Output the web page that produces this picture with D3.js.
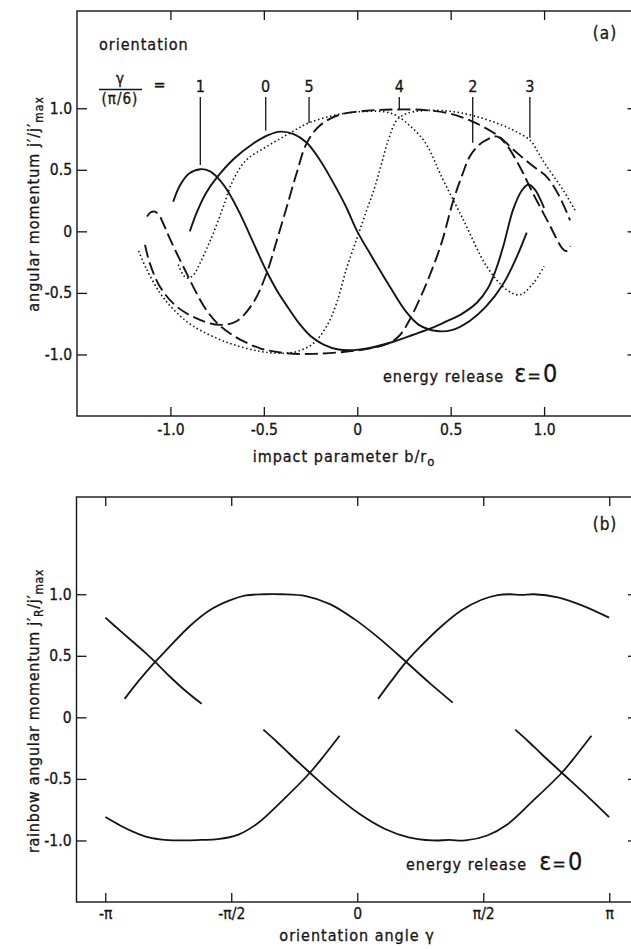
<!DOCTYPE html>
<html>
<head>
<meta charset="utf-8">
<script src="https://cdn.jsdelivr.net/npm/d3@7"></script>
<style>
  body { margin: 0; background: #fff; }
  svg { display: block; background: #fff; }
  text { font-family: "Liberation Sans Narrow", "DejaVu Sans Condensed", "DejaVu Sans", sans-serif; fill: #151515; stroke: #151515; stroke-width: 0.3px; }
  .axis text { font-size: 15.5px; letter-spacing: 0px; }
  .label { font-size: 16px; letter-spacing: 1px; }
</style>
</head>
<body>
<div id="vis-container"></div>
<script>

////////////////////////////////////
////////////// Data ////////////////
////////////////////////////////////

// panel (a): ticks
const impactTicks = [-1.0, -0.5, 0, 0.5, 1.0]
const impactTickLabels = ["-1.0", "-0.5", "0", "0.5", "1.0"]
const momentumTicks = [1.0, 0.5, 0, -0.5, -1.0]
const momentumTickLabels = ["1.0", "0.5", "0", "-0.5", "-1.0"]

// panel (a): j'/j'max vs b/r0 for orientation gamma = k * pi/6   [b, j]
const gamma0 = [[-0.896, 0.00], [-0.86, 0.15], [-0.81, 0.31], [-0.75, 0.44], [-0.66, 0.59], [-0.56, 0.71],
    [-0.48, 0.78], [-0.41, 0.81], [-0.34, 0.79], [-0.27, 0.72], [-0.20, 0.58], [-0.13, 0.40],
    [-0.06, 0.20], [0.00, 0.00], [0.08, -0.21], [0.175, -0.45], [0.26, -0.65], [0.33, -0.76],
    [0.425, -0.81], [0.51, -0.80], [0.60, -0.73], [0.69, -0.61], [0.78, -0.43], [0.85, -0.22], [0.907, -0.01]]

const gamma1 = [[-0.985, 0.24], [-0.95, 0.37], [-0.90, 0.47], [-0.84, 0.505], [-0.79, 0.49], [-0.75, 0.44],
    [-0.69, 0.32], [-0.62, 0.12], [-0.56, -0.08], [-0.49, -0.31], [-0.43, -0.48], [-0.37, -0.62],
    [-0.31, -0.75], [-0.25, -0.85], [-0.18, -0.92], [-0.10, -0.96], [-0.02, -0.965], [0.06, -0.95],
    [0.175, -0.905], [0.30, -0.84], [0.40, -0.785], [0.48, -0.73], [0.56, -0.67], [0.64, -0.58],
    [0.70, -0.46], [0.74, -0.32], [0.78, -0.13], [0.835, 0.18], [0.88, 0.33], [0.916, 0.38],
    [0.95, 0.34], [0.98, 0.26], [1.00, 0.19]]

const gamma2 = [[-1.125, 0.12], [-1.105, 0.155], [-1.083, 0.16], [-1.062, 0.135], [-1.04, 0.07], [-1.00, -0.07],
    [-0.93, -0.29], [-0.82, -0.61], [-0.75, -0.745], [-0.66, -0.85], [-0.52, -0.95], [-0.38, -0.99],
    [-0.235, -0.995], [-0.075, -0.98], [0.07, -0.95], [0.175, -0.905], [0.23, -0.84], [0.28, -0.72],
    [0.34, -0.53], [0.39, -0.35], [0.45, -0.10], [0.514, 0.25], [0.56, 0.45], [0.603, 0.61],
    [0.65, 0.70], [0.70, 0.75], [0.75, 0.77], [0.80, 0.70], [0.85, 0.58], [0.889, 0.47],
    [0.93, 0.34], [0.978, 0.20], [1.03, 0.05], [1.067, -0.06], [1.095, -0.135], [1.115, -0.16],
    [1.13, -0.15], [1.14, -0.12]]

const gamma3 = [[-1.17, -0.16], [-1.13, -0.30], [-1.056, -0.50], [-0.98, -0.64], [-0.878, -0.77], [-0.70, -0.90],
    [-0.52, -0.975], [-0.40, -0.99], [-0.32, -0.975], [-0.235, -0.91], [-0.16, -0.76], [-0.11, -0.58],
    [-0.057, -0.30], [0.00, -0.05], [0.05, 0.17], [0.09, 0.34], [0.13, 0.55], [0.166, 0.74], [0.21, 0.90],
    [0.26, 0.955], [0.35, 0.98], [0.50, 0.975], [0.645, 0.93], [0.78, 0.86], [0.85, 0.81], [0.925, 0.74],
    [0.965, 0.65], [1.00, 0.56], [1.05, 0.45], [1.10, 0.34], [1.17, 0.16]]

const gamma4 = [[-1.136, -0.11], [-1.11, -0.26], [-1.056, -0.45], [-0.967, -0.61], [-0.842, -0.72], [-0.735, -0.76],
    [-0.646, -0.73], [-0.557, -0.58], [-0.485, -0.34], [-0.43, -0.07], [-0.377, 0.20], [-0.325, 0.47],
    [-0.271, 0.715], [-0.20, 0.86], [-0.10, 0.945], [0.05, 0.98], [0.20, 0.99], [0.365, 0.985],
    [0.50, 0.955], [0.62, 0.89], [0.75, 0.78], [0.853, 0.64], [0.94, 0.53], [1.013, 0.445],
    [1.08, 0.29], [1.139, 0.09]]

const gamma5 = [[-0.958, -0.27], [-0.935, -0.345], [-0.913, -0.38], [-0.88, -0.36], [-0.842, -0.26], [-0.80, -0.12],
    [-0.77, -0.015], [-0.717, 0.20], [-0.664, 0.417], [-0.593, 0.58], [-0.485, 0.688], [-0.37, 0.79],
    [-0.26, 0.88], [-0.10, 0.95], [0.05, 0.975], [0.15, 0.97], [0.21, 0.94], [0.28, 0.86], [0.354, 0.742],
    [0.40, 0.62], [0.443, 0.47], [0.568, 0.093], [0.693, -0.285], [0.80, -0.475], [0.871, -0.515],
    [0.943, -0.42], [1.00, -0.285]]

// orientation labels with the curve point each pointer reaches
const orientLabels = ["1", "0", "5", "4", "2", "3"]
const orientB = [-0.84, -0.49, -0.258, 0.225, 0.618, 0.924]
const orientJ = [0.54, 0.82, 0.88, 0.99, 0.72, 0.76]

// panel (b): ticks
const angleTicks = [-Math.PI, -Math.PI / 2, 0, Math.PI / 2, Math.PI]
const angleTickLabels = ["-π", "-π/2", "0", "π/2", "π"]

// panel (b): rainbow j'R/j'max vs orientation angle   [gamma, j]
const rainbowUp1 = [[-3.14, 0.81], [-2.95, 0.70], [-2.79, 0.61], [-2.65, 0.53], [-2.52, 0.45],
    [-2.35, 0.34], [-2.15, 0.22], [-1.94, 0.11]]
const rainbowUp2 = [[-2.90, 0.15], [-2.72, 0.30], [-2.52, 0.45], [-2.36, 0.56], [-2.09, 0.74], [-1.84, 0.87],
    [-1.59, 0.95], [-1.39, 0.99], [-1.17, 1.00], [-0.94, 1.00], [-0.64, 0.985], [-0.34, 0.92],
    [-0.04, 0.80], [0.26, 0.65], [0.61, 0.45], [0.90, 0.28], [1.19, 0.12]]
const rainbowUp3 = [[0.26, 0.15], [0.43, 0.30], [0.61, 0.45], [0.78, 0.57], [1.05, 0.74], [1.30, 0.87],
    [1.55, 0.955], [1.75, 0.993], [1.90, 1.00], [2.05, 0.995], [2.20, 1.00], [2.50, 0.975],
    [2.80, 0.91], [3.14, 0.81]]
const rainbowLow1 = [[-3.14, -0.81], [-2.95, -0.88], [-2.79, -0.93], [-2.60, -0.975], [-2.40, -0.995],
    [-2.15, -1.00], [-1.95, -0.996], [-1.74, -0.99], [-1.49, -0.955], [-1.24, -0.86], [-0.94, -0.68],
    [-0.59, -0.45], [-0.40, -0.30], [-0.22, -0.15]]
const rainbowLow2 = [[-1.17, -0.10], [-1.00, -0.20], [-0.84, -0.30], [-0.59, -0.45], [-0.26, -0.64],
    [0.04, -0.79], [0.34, -0.905], [0.64, -0.975], [0.94, -1.00], [1.15, -0.996], [1.35, -1.00],
    [1.62, -0.96], [1.87, -0.87], [2.17, -0.69], [2.55, -0.45], [2.74, -0.30], [2.92, -0.15]]
const rainbowLow3 = [[1.97, -0.10], [2.14, -0.20], [2.30, -0.30], [2.55, -0.45], [2.90, -0.66], [3.14, -0.81]]

////////////////////////////////////
///////////// SVG Setup ////////////
////////////////////////////////////

const svgWidth = 631
const svgHeight = 949

const svg = d3.select('#vis-container')
    .append('svg')
    .attr('width', svgWidth)
    .attr('height', svgHeight)

const ink = '#151515'

////////////////////////////////////
/////////////// Scales /////////////
////////////////////////////////////

const xA = d3.scaleLinear().domain([-1.5, 1.5]).range([77, 637.5])
const yA = d3.scaleLinear().domain([-1.5, 1.79]).range([416, 11])

const xB = d3.scaleLinear().domain([-3.5, 3.5]).range([76.5, 638])
const yB = d3.scaleLinear().domain([-1.5, 1.79]).range([902, 497])

////////////////////////////////////
////////////// Axes ////////////////
////////////////////////////////////

function drawFrame(x, y, xTicks, xLabels, yTicks, yLabels, pad) {
    const [x0, x1] = x.range()
    const [y0, y1] = y.range()

    svg.append('rect')
        .attr('x', x0).attr('y', y1)
        .attr('width', x1 - x0).attr('height', y0 - y1)
        .attr('fill', 'none').attr('stroke', ink).attr('stroke-width', 1.4)

    const clean = g => {
        g.select('.domain').remove()
        g.selectAll('.tick line').attr('stroke', ink).attr('stroke-width', 1.3)
    }

    svg.append('g').attr('class', 'axis')
        .attr('transform', `translate(0,${y0})`)
        .call(d3.axisBottom(x).tickValues(xTicks).tickFormat((d, i) => xLabels[i])
            .tickSizeInner(-9).tickSizeOuter(0).tickPadding(pad))
        .call(clean)

    svg.append('g')
        .attr('transform', `translate(0,${y1})`)
        .call(d3.axisTop(x).tickValues(xTicks).tickFormat(() => '')
            .tickSizeInner(-9).tickSizeOuter(0))
        .call(clean)

    svg.append('g').attr('class', 'axis')
        .attr('transform', `translate(${x0},0)`)
        .call(d3.axisLeft(y).tickValues(yTicks).tickFormat((d, i) => yLabels[i])
            .tickSizeInner(-10).tickSizeOuter(0).tickPadding(5))
        .call(clean)

    svg.append('g')
        .attr('transform', `translate(${x1},0)`)
        .call(d3.axisRight(y).tickValues(yTicks).tickFormat(() => '')
            .tickSizeInner(-10).tickSizeOuter(0))
        .call(clean)
}

drawFrame(xA, yA, impactTicks, impactTickLabels, momentumTicks, momentumTickLabels, 8)
drawFrame(xB, yB, angleTicks, angleTickLabels, momentumTicks, momentumTickLabels, 6)

////////////////////////////////////
///////////// Curves ///////////////
////////////////////////////////////

const lineStyles = {
    solid: { width: 1.9, dash: null },
    dashed: { width: 1.9, dash: '13 5' },
    dotted: { width: 1.6, dash: '1.5 2.6' }
}

const lineA = d3.line()
    .x(d => xA(d[0]))
    .y(d => yA(d[1]))
    .curve(d3.curveCatmullRom.alpha(0.5))

const panelACurves = [
    { data: gamma0, style: 'solid' },
    { data: gamma1, style: 'solid' },
    { data: gamma2, style: 'dashed' },
    { data: gamma3, style: 'dotted' },
    { data: gamma4, style: 'dashed' },
    { data: gamma5, style: 'dotted' }
]

svg.append('g')
    .selectAll('path')
    .data(panelACurves)
    .join('path')
    .attr('d', d => lineA(d.data))
    .attr('fill', 'none')
    .attr('stroke', ink)
    .attr('stroke-width', d => lineStyles[d.style].width)
    .attr('stroke-dasharray', d => lineStyles[d.style].dash)
    .attr('stroke-linejoin', 'round')

const lineB = d3.line()
    .x(d => xB(d[0]))
    .y(d => yB(d[1]))
    .curve(d3.curveCatmullRom.alpha(0.5))

svg.append('g')
    .selectAll('path')
    .data([rainbowUp1, rainbowUp2, rainbowUp3, rainbowLow1, rainbowLow2, rainbowLow3])
    .join('path')
    .attr('d', d => lineB(d))
    .attr('fill', 'none')
    .attr('stroke', ink)
    .attr('stroke-width', 1.8)
    .attr('stroke-linejoin', 'round')

////////////////////////////////////
///////////// Labels ///////////////
////////////////////////////////////

// orientation pointers
const pointers = svg.append('g')
orientLabels.forEach((lab, i) => {
    const px = xA(orientB[i])
    pointers.append('line')
        .attr('x1', px).attr('x2', px)
        .attr('y1', 97).attr('y2', yA(orientJ[i]))
        .attr('stroke', ink).attr('stroke-width', 1.3)
    pointers.append('text')
        .attr('class', 'label')
        .attr('x', px).attr('y', 92)
        .attr('text-anchor', 'middle')
        .style('letter-spacing', '0px')
        .text(lab)
})

svg.append('text').attr('class', 'label').attr('x', 99).attr('y', 50).text('orientation')

// gamma / (pi/6) =
svg.append('text').attr('class', 'label').attr('x', 120).attr('y', 84)
    .attr('text-anchor', 'middle').style('letter-spacing', '0px').style('font-size', '15px').text('γ')
svg.append('line').attr('x1', 99).attr('x2', 142).attr('y1', 89.5).attr('y2', 89.5)
    .attr('stroke', ink).attr('stroke-width', 1.4)
svg.append('text').attr('class', 'label').attr('x', 120).attr('y', 104)
    .attr('text-anchor', 'middle').style('letter-spacing', '1px').style('font-size', '15px').text('(π/6)')
svg.append('text').attr('class', 'label').attr('x', 160).attr('y', 90)
    .attr('text-anchor', 'middle').text('=')

svg.append('text').attr('class', 'label').attr('x', 605).attr('y', 39)
    .attr('text-anchor', 'middle').style('font-size', '17px').text('(a)')
svg.append('text').attr('class', 'label').attr('x', 605).attr('y', 530)
    .attr('text-anchor', 'middle').style('font-size', '17px').text('(b)')

function energyLabel(x, y, gap) {
    const t = svg.append('text').attr('class', 'label').attr('x', x).attr('y', y)
    t.append('tspan').text('energy release')
    t.append('tspan').attr('dx', gap).attr('font-size', 25).text('ε')
    t.append('tspan').attr('dx', 0).attr('font-size', 18).text('=')
    t.append('tspan').attr('dx', 1).attr('font-size', 25).text('0')
}
energyLabel(383, 382, 10)
energyLabel(406, 870, 12)

// axis titles
const xTitleA = svg.append('text').attr('class', 'label')
    .attr('x', 344).attr('y', 462).attr('text-anchor', 'middle')
xTitleA.append('tspan').text('impact parameter b/r')
xTitleA.append('tspan').attr('dy', 4).attr('font-size', 13).text('o')

svg.append('text').attr('class', 'label')
    .attr('x', 357).attr('y', 941).attr('text-anchor', 'middle')
    .text('orientation angle γ')

const yTitleA = svg.append('text').attr('class', 'label')
    .attr('transform', 'translate(39,204) rotate(-90)')
    .attr('text-anchor', 'middle')
yTitleA.append('tspan').text('angular momentum j′/j′')
yTitleA.append('tspan').attr('dy', 4).attr('font-size', 12).text('max')

const yTitleB = svg.append('text').attr('class', 'label')
    .attr('transform', 'translate(39,711) rotate(-90)')
    .attr('text-anchor', 'middle')
    .style('letter-spacing', '0.7px')
yTitleB.append('tspan').text('rainbow angular momentum j′')
yTitleB.append('tspan').attr('dy', 4).attr('font-size', 12).text('R')
yTitleB.append('tspan').attr('dy', -4).text('/j′')
yTitleB.append('tspan').attr('dy', 4).attr('font-size', 12).text('max')

</script>
</body>
</html>
